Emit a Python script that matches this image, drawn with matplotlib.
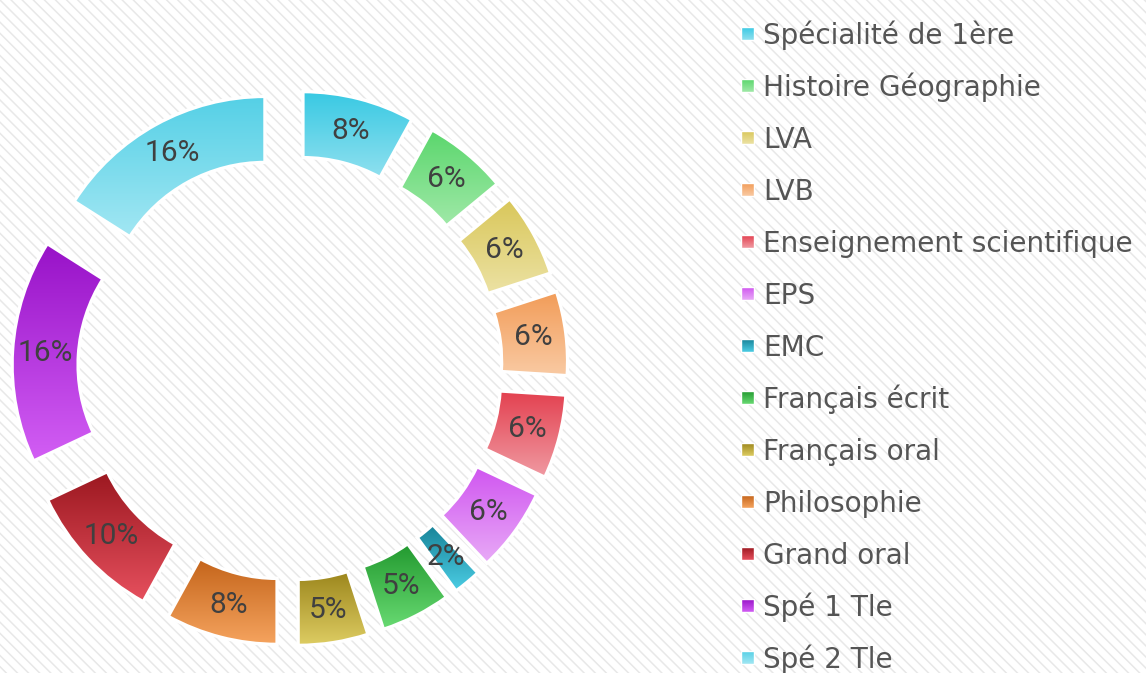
import numpy as np
import matplotlib
matplotlib.use("Agg")
import matplotlib.pyplot as plt
import matplotlib.patches as mpatches
from matplotlib.colors import to_rgb

# ---------- DATA ----------
categories = ["Spécialité de 1ère", "Histoire Géographie", "LVA", "LVB",
              "Enseignement scientifique", "EPS", "EMC", "Français écrit",
              "Français oral", "Philosophie", "Grand oral", "Spé 1 Tle", "Spé 2 Tle"]
values = [8, 6, 6, 6, 6, 6, 2, 5, 5, 8, 10, 16, 16]

# gradient colours per slice (top, bottom)
top_colors = ["#38c9e3", "#5ad66c", "#d9c75a", "#f29c58", "#e3404f", "#d055f0",
              "#178398", "#22992f", "#9c861c", "#c4641a", "#9c1820", "#9812c8", "#55d0e6"]
bottom_colors = ["#8fe0ef", "#a0e9a8", "#ece2a4", "#f9caa3", "#f09aa2", "#e8aaf7",
                 "#4ccde4", "#68da72", "#ddcc62", "#f5a35e", "#e6505e", "#d25ef4", "#a2e7f3"]

# ---------- GEOMETRY (pixels) ----------
W, H = 1146, 673
cx, cy = 290, H - 368
R, ring, expl = 226, 66, 52

plt.rcParams['hatch.linewidth'] = 1.1


def gradient_fill(ax, patch, c_top, c_bottom, z):
    bb = patch.get_path().get_extents(patch.get_patch_transform())
    t = np.linspace(0, 1, 64)[:, None]
    grad = (1 - t) * np.array(to_rgb(c_bottom)) + t * np.array(to_rgb(c_top))
    im = ax.imshow(grad[:, None, :].repeat(2, axis=1), extent=[bb.x0, bb.x1, bb.y0, bb.y1],
                   origin="lower", aspect="auto", zorder=z, interpolation="bilinear")
    im.set_clip_path(patch)


fig = plt.figure(figsize=(W / 100, H / 100), dpi=100)
ax = fig.add_axes([0, 0, 1, 1])

# striped background
ax.add_patch(mpatches.Rectangle((0, 0), W, H, facecolor="white", edgecolor="#e8e8e8",
                                hatch="\\\\\\", lw=0, zorder=0))

wedges, texts, autotexts = ax.pie(
    values, radius=R, center=(cx, cy), explode=[expl] * len(values),
    startangle=90, counterclock=False, colors=top_colors,
    wedgeprops=dict(width=ring, linewidth=0),
    autopct=lambda p: f"{p:.0f}%", pctdistance=(R - ring / 2) / R,
    textprops=dict(color="#404040", fontsize=21.5, family=["Roboto", "DejaVu Sans"]))

# vertical gradient inside each slice + white border
for w, c0, c1 in zip(wedges, top_colors, bottom_colors):
    w.set_zorder(1)
    gradient_fill(ax, w, c0, c1, 2)
    ax.add_patch(mpatches.PathPatch(w.get_path(), fill=False, edgecolor="white",
                                    lw=2.4, zorder=3))

for t in autotexts:
    t.set_zorder(4)

# legend
row0, step = 33.5, 52
for i, (name, c0, c1) in enumerate(zip(categories, top_colors, bottom_colors)):
    y = H - (row0 + i * step)
    sq = mpatches.Rectangle((741, y - 6.5), 13, 13, facecolor=c0, edgecolor="none", zorder=2)
    ax.add_patch(sq)
    gradient_fill(ax, sq, c0, c1, 2)
    ax.add_patch(mpatches.Rectangle((741, y - 6.5), 13, 13, fill=False, edgecolor="white",
                                    lw=1, zorder=3))
    ax.text(763, y - 10.5, name, fontsize=20.1, color="#555555", va="baseline", ha="left",
            family="DejaVu Sans", zorder=4)

ax.set_xlim(0, W)
ax.set_ylim(0, H)
ax.set_aspect("auto")
ax.axis("off")

fig.savefig("out.png", dpi=100)
